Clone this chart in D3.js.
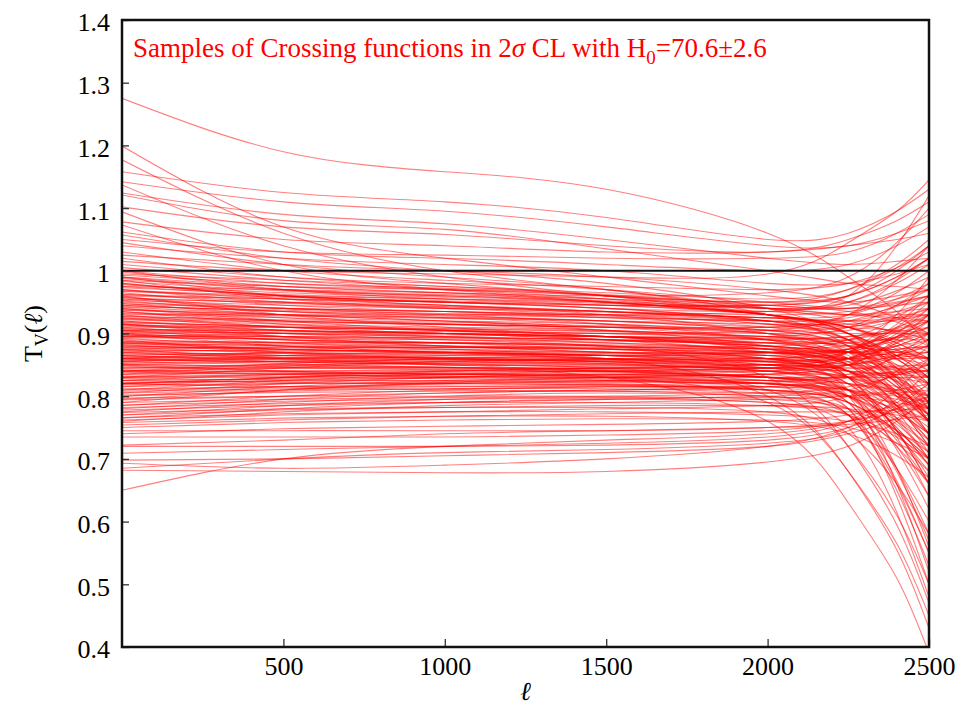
<!DOCTYPE html>
<html>
<head>
<meta charset="utf-8">
<script src="https://cdn.jsdelivr.net/npm/d3@7"></script>
<style>
  html, body { margin: 0; padding: 0; background: #fff; }
  svg { display: block; }
  text { font-family: "Liberation Serif", "DejaVu Serif", serif; }
</style>
</head>
<body>
<svg id="chart" width="977" height="708"></svg>
<script>
// Multipoles at which each sampled crossing function is tabulated
const ellKnots = [0, 500, 1000, 1500, 2000, 2250, 2400, 2500];

// Samples that start above the reference level T = 1
const highSamples = [
  [1.275,1.19,1.158,1.13,1.06,0.99,0.935,0.88],
  [1.199,1.07,1.02,0.99,0.96,0.95,0.96,0.97],
  [1.177,1.06,1.00,0.97,0.94,0.92,0.90,0.88],
  [1.158,1.125,1.11,1.085,1.05,1.06,1.095,1.13],
  [1.142,1.11,1.095,1.07,1.04,1.04,1.06,1.08],
  [1.137,1.04,0.99,0.96,0.93,0.91,0.89,0.87],
  [1.124,1.09,1.075,1.05,1.02,1.01,1.015,1.02],
  [1.121,1.08,1.066,1.035,1.00,0.98,0.975,0.97],
  [1.102,1.07,1.058,1.04,1.03,1.05,1.08,1.11],
  [1.094,1.01,0.98,0.96,0.95,0.96,0.99,1.02],
  [1.078,1.05,1.04,1.03,1.03,1.04,1.05,1.06],
  [1.073,1.00,0.97,0.95,0.93,0.91,0.885,0.86],
  [1.062,1.03,1.02,1.01,1.00,1.01,1.04,1.07],
  [1.057,1.02,1.00,0.98,0.94,0.90,0.86,0.82],
  [1.05,1.03,1.025,1.02,1.02,1.03,1.06,1.09],
  [1.045,1.01,0.99,0.97,0.93,0.88,0.82,0.76],
  [1.04,1.02,1.01,1.00,0.98,0.98,0.995,1.01],
  [1.03,1.00,0.985,0.97,0.95,0.94,0.945,0.95],
  [1.025,1.01,1.00,0.99,0.97,0.95,0.925,0.90],
  [1.02,0.99,0.975,0.96,0.93,0.90,0.865,0.83],
  [1.015,1.00,0.995,0.99,0.995,1.045,1.095,1.145],
  [1.01,0.99,0.98,0.975,0.97,0.98,1.005,1.03],
  [1.005,0.985,0.97,0.955,0.93,0.91,0.885,0.86],
  [1.00,0.98,0.97,0.96,0.95,0.97,1.01,1.05]
];

// Samples in the upper half of the main band
const upperBandSamples = [
  [0.998,0.975,0.965,0.955,0.94,0.93,0.925,0.92],
  [0.993,0.98,0.972,0.962,0.945,0.94,0.95,0.96],
  [0.988,0.97,0.962,0.955,0.945,0.935,0.918,0.90],
  [0.983,0.968,0.96,0.952,0.94,0.945,0.968,0.99],
  [0.978,0.965,0.958,0.95,0.93,0.90,0.84,0.78],
  [0.973,0.962,0.955,0.948,0.94,0.95,0.98,1.01],
  [0.967,0.958,0.952,0.945,0.93,0.91,0.875,0.84],
  [0.963,0.95,0.943,0.935,0.925,0.93,0.955,0.98],
  [0.957,0.948,0.942,0.935,0.92,0.90,0.86,0.82],
  [0.953,0.945,0.94,0.934,0.925,0.92,0.92,0.92],
  [0.947,0.94,0.935,0.928,0.915,0.89,0.83,0.77],
  [0.943,0.937,0.932,0.926,0.92,0.925,0.943,0.96],
  [0.937,0.93,0.926,0.92,0.905,0.88,0.82,0.76],
  [0.933,0.928,0.924,0.92,0.915,0.915,0.922,0.93],
  [0.927,0.922,0.918,0.912,0.90,0.87,0.805,0.74],
  [0.923,0.918,0.914,0.91,0.905,0.91,0.93,0.95],
  [0.917,0.912,0.908,0.904,0.895,0.875,0.833,0.79],
  [0.913,0.91,0.907,0.903,0.90,0.905,0.922,0.94],
  [0.907,0.904,0.90,0.895,0.885,0.865,0.823,0.78],
  [0.903,0.90,0.898,0.895,0.892,0.895,0.903,0.91],
  [0.897,0.895,0.893,0.89,0.88,0.86,0.815,0.77],
  [0.893,0.892,0.89,0.888,0.885,0.89,0.905,0.92],
  [0.887,0.886,0.885,0.882,0.875,0.855,0.808,0.76],
  [0.883,0.882,0.88,0.878,0.876,0.88,0.895,0.91],
  [0.877,0.878,0.878,0.876,0.87,0.855,0.823,0.79],
  [0.873,0.873,0.872,0.87,0.868,0.87,0.88,0.89],
  [0.867,0.868,0.868,0.866,0.86,0.84,0.79,0.74],
  [0.863,0.865,0.866,0.865,0.865,0.875,0.903,0.93],
  [0.857,0.86,0.861,0.86,0.855,0.84,0.80,0.76],
  [0.853,0.856,0.858,0.858,0.857,0.86,0.87,0.88],
  [0.96,0.955,0.95,0.94,0.92,0.89,0.825,0.76],
  [0.975,0.96,0.95,0.945,0.945,0.96,1.00,1.04],
  [0.99,0.96,0.945,0.935,0.925,0.915,0.903,0.89],
  [1.00,0.97,0.955,0.945,0.935,0.93,0.935,0.94],
  [0.985,0.955,0.94,0.93,0.915,0.89,0.85,0.81]
];

// Samples inside the main band
const bandSamples = [
  [0.995,0.985,0.975,0.965,0.955,0.97,1.005,1.04],
  [0.99,0.97,0.96,0.95,0.93,0.91,0.88,0.85],
  [0.985,0.975,0.97,0.96,0.94,0.93,0.93,0.93],
  [0.98,0.96,0.95,0.94,0.92,0.89,0.845,0.80],
  [0.975,0.97,0.965,0.96,0.965,0.99,1.045,1.10],
  [0.97,0.955,0.945,0.93,0.90,0.86,0.80,0.74],
  [0.968,0.96,0.955,0.95,0.94,0.94,0.955,0.97],
  [0.965,0.945,0.935,0.925,0.91,0.89,0.865,0.84],
  [0.962,0.955,0.95,0.945,0.945,0.96,0.99,1.02],
  [0.958,0.94,0.93,0.915,0.89,0.85,0.785,0.72],
  [0.955,0.95,0.945,0.935,0.92,0.91,0.905,0.90],
  [0.952,0.935,0.925,0.915,0.90,0.87,0.83,0.79],
  [0.95,0.94,0.935,0.93,0.935,0.96,1.04,1.12],
  [0.948,0.93,0.92,0.905,0.88,0.83,0.745,0.66],
  [0.945,0.935,0.93,0.925,0.92,0.92,0.935,0.95],
  [0.942,0.93,0.92,0.91,0.89,0.86,0.815,0.77],
  [0.94,0.925,0.915,0.905,0.895,0.89,0.89,0.89],
  [0.938,0.93,0.925,0.92,0.91,0.91,0.925,0.94],
  [0.935,0.915,0.905,0.895,0.875,0.83,0.735,0.64],
  [0.932,0.925,0.92,0.915,0.905,0.90,0.90,0.90],
  [0.93,0.91,0.90,0.89,0.88,0.87,0.865,0.86],
  [0.928,0.92,0.915,0.91,0.91,0.93,0.965,1.00],
  [0.925,0.91,0.90,0.89,0.87,0.83,0.745,0.66],
  [0.922,0.915,0.91,0.905,0.89,0.87,0.845,0.82],
  [0.92,0.905,0.895,0.885,0.875,0.87,0.875,0.88],
  [0.918,0.91,0.905,0.90,0.89,0.88,0.87,0.86],
  [0.915,0.90,0.89,0.88,0.86,0.83,0.78,0.73],
  [0.912,0.905,0.90,0.895,0.895,0.91,0.945,0.98],
  [0.91,0.895,0.885,0.875,0.86,0.81,0.685,0.56],
  [0.908,0.90,0.895,0.89,0.88,0.87,0.86,0.85],
  [0.905,0.89,0.88,0.87,0.86,0.85,0.845,0.84],
  [0.902,0.895,0.89,0.885,0.875,0.86,0.83,0.80],
  [0.90,0.89,0.885,0.88,0.88,0.89,0.91,0.93],
  [0.898,0.885,0.875,0.865,0.85,0.82,0.76,0.70],
  [0.895,0.89,0.885,0.88,0.87,0.86,0.845,0.83],
  [0.892,0.88,0.87,0.865,0.86,0.87,0.895,0.92],
  [0.89,0.885,0.88,0.875,0.86,0.83,0.765,0.70],
  [0.888,0.875,0.868,0.86,0.85,0.845,0.848,0.85],
  [0.885,0.88,0.875,0.87,0.865,0.86,0.86,0.86],
  [0.882,0.87,0.862,0.855,0.84,0.81,0.75,0.69],
  [0.88,0.875,0.87,0.865,0.87,0.89,0.925,0.96],
  [0.878,0.868,0.86,0.855,0.85,0.85,0.86,0.87],
  [0.875,0.87,0.865,0.86,0.845,0.80,0.66,0.52],
  [0.872,0.865,0.86,0.855,0.845,0.83,0.805,0.78],
  [0.87,0.86,0.855,0.85,0.845,0.85,0.865,0.88],
  [0.868,0.862,0.858,0.852,0.84,0.82,0.785,0.75],
  [0.865,0.858,0.852,0.846,0.835,0.80,0.72,0.64],
  [0.862,0.86,0.858,0.856,0.855,0.86,0.88,0.90],
  [0.86,0.852,0.846,0.84,0.83,0.81,0.775,0.74],
  [0.858,0.855,0.852,0.85,0.85,0.86,0.88,0.90],
  [0.855,0.85,0.846,0.842,0.83,0.79,0.685,0.58],
  [0.852,0.846,0.842,0.838,0.83,0.82,0.81,0.80],
  [0.85,0.848,0.846,0.844,0.845,0.86,0.90,0.94],
  [0.848,0.84,0.835,0.83,0.82,0.80,0.755,0.71],
  [0.845,0.845,0.845,0.844,0.84,0.83,0.815,0.80],
  [0.842,0.838,0.835,0.832,0.82,0.78,0.64,0.50],
  [0.84,0.84,0.84,0.84,0.84,0.85,0.865,0.88],
  [0.838,0.835,0.832,0.828,0.82,0.80,0.765,0.73],
  [0.835,0.836,0.836,0.835,0.83,0.82,0.805,0.79],
  [0.832,0.832,0.832,0.83,0.825,0.80,0.73,0.66],
  [0.83,0.835,0.838,0.84,0.845,0.87,0.93,0.99],
  [0.828,0.826,0.824,0.82,0.81,0.77,0.66,0.55],
  [0.825,0.828,0.83,0.83,0.83,0.83,0.83,0.83],
  [0.822,0.824,0.825,0.824,0.82,0.81,0.785,0.76],
  [0.82,0.825,0.83,0.835,0.84,0.86,0.895,0.93],
  [0.818,0.82,0.82,0.818,0.81,0.79,0.745,0.70],
  [0.815,0.82,0.822,0.824,0.825,0.83,0.84,0.85],
  [0.812,0.815,0.816,0.815,0.81,0.79,0.745,0.70],
  [0.81,0.815,0.82,0.822,0.82,0.80,0.74,0.68],
  [0.808,0.812,0.815,0.818,0.822,0.835,0.863,0.89],
  [0.805,0.81,0.812,0.812,0.805,0.77,0.65,0.53],
  [0.802,0.806,0.808,0.808,0.805,0.80,0.79,0.78],
  [0.80,0.808,0.812,0.815,0.815,0.81,0.80,0.79],
  [0.797,0.80,0.80,0.80,0.795,0.78,0.745,0.71],
  [0.794,0.80,0.805,0.81,0.815,0.83,0.865,0.90],
  [0.79,0.795,0.798,0.798,0.79,0.75,0.615,0.48],
  [0.786,0.792,0.795,0.797,0.798,0.80,0.805,0.81],
  [0.782,0.788,0.79,0.79,0.785,0.77,0.735,0.70],
  [0.778,0.785,0.79,0.795,0.80,0.81,0.835,0.86],
  [0.774,0.78,0.782,0.782,0.775,0.74,0.66,0.58],
  [0.77,0.778,0.782,0.785,0.785,0.78,0.77,0.76],
  [0.766,0.772,0.775,0.775,0.77,0.76,0.74,0.72],
  [0.762,0.77,0.775,0.78,0.785,0.80,0.84,0.88],
  [0.758,0.765,0.768,0.768,0.76,0.74,0.705,0.67],
  [0.754,0.762,0.768,0.772,0.775,0.775,0.778,0.78],
  [0.75,0.758,0.762,0.764,0.762,0.75,0.725,0.70]
];

// Further band samples with steeper or crossing slopes
const crossSamples = [
  [0.96,0.93,0.91,0.895,0.88,0.87,0.87,0.87],
  [0.94,0.92,0.905,0.89,0.87,0.86,0.865,0.87],
  [0.93,0.93,0.93,0.93,0.925,0.92,0.925,0.93],
  [0.92,0.91,0.905,0.90,0.905,0.93,0.985,1.04],
  [0.915,0.895,0.88,0.87,0.855,0.83,0.785,0.74],
  [0.91,0.91,0.905,0.895,0.875,0.85,0.805,0.76],
  [0.905,0.90,0.895,0.89,0.89,0.895,0.908,0.92],
  [0.90,0.88,0.87,0.86,0.845,0.83,0.80,0.77],
  [0.895,0.90,0.90,0.895,0.885,0.87,0.85,0.83],
  [0.89,0.87,0.86,0.855,0.855,0.87,0.91,0.95],
  [0.885,0.885,0.885,0.88,0.87,0.85,0.805,0.76],
  [0.88,0.88,0.878,0.875,0.865,0.84,0.775,0.71],
  [0.875,0.86,0.85,0.84,0.83,0.83,0.835,0.84],
  [0.87,0.875,0.878,0.878,0.875,0.87,0.865,0.86],
  [0.865,0.87,0.87,0.865,0.85,0.82,0.745,0.67],
  [0.86,0.862,0.862,0.86,0.86,0.87,0.895,0.92],
  [0.855,0.86,0.865,0.868,0.87,0.87,0.875,0.88],
  [0.85,0.855,0.855,0.852,0.84,0.81,0.715,0.62],
  [0.845,0.85,0.853,0.853,0.85,0.845,0.843,0.84],
  [0.84,0.852,0.86,0.865,0.87,0.875,0.888,0.90],
  [0.835,0.84,0.842,0.84,0.83,0.81,0.765,0.72],
  [0.83,0.845,0.855,0.86,0.86,0.85,0.825,0.80],
  [0.825,0.835,0.84,0.845,0.85,0.86,0.885,0.91],
  [0.82,0.83,0.835,0.835,0.825,0.79,0.68,0.57],
  [0.815,0.83,0.84,0.845,0.845,0.84,0.835,0.83],
  [0.81,0.825,0.835,0.84,0.845,0.855,0.873,0.89],
  [0.805,0.82,0.83,0.835,0.83,0.81,0.75,0.69],
  [0.80,0.815,0.825,0.83,0.835,0.835,0.838,0.84],
  [0.795,0.81,0.82,0.825,0.825,0.81,0.775,0.74],
  [0.79,0.81,0.822,0.83,0.835,0.85,0.89,0.93],
  [0.785,0.80,0.81,0.815,0.815,0.80,0.76,0.72],
  [0.78,0.795,0.805,0.81,0.81,0.80,0.78,0.76],
  [0.775,0.79,0.80,0.805,0.80,0.78,0.72,0.66],
  [0.77,0.785,0.795,0.80,0.805,0.815,0.833,0.85],
  [0.765,0.78,0.79,0.795,0.79,0.77,0.725,0.68],
  [0.76,0.775,0.785,0.79,0.795,0.80,0.81,0.82],
  [0.97,0.95,0.94,0.935,0.93,0.935,0.948,0.96],
  [0.955,0.94,0.935,0.93,0.92,0.90,0.865,0.83],
  [0.935,0.92,0.915,0.91,0.90,0.885,0.858,0.83],
  [0.925,0.92,0.915,0.91,0.91,0.92,0.945,0.97],
  [0.915,0.905,0.90,0.895,0.88,0.85,0.785,0.72],
  [0.905,0.905,0.90,0.895,0.89,0.88,0.87,0.86],
  [0.895,0.895,0.893,0.89,0.885,0.885,0.893,0.90],
  [0.885,0.875,0.87,0.865,0.855,0.84,0.81,0.78],
  [0.875,0.878,0.878,0.875,0.87,0.875,0.893,0.91],
  [0.865,0.855,0.85,0.848,0.845,0.84,0.83,0.82],
  [0.855,0.865,0.87,0.87,0.865,0.84,0.785,0.73],
  [0.845,0.845,0.845,0.845,0.85,0.87,0.915,0.96],
  [0.835,0.848,0.855,0.858,0.855,0.84,0.805,0.77],
  [0.825,0.822,0.82,0.818,0.81,0.79,0.74,0.69],
  [0.98,0.96,0.95,0.94,0.935,0.95,0.985,1.02],
  [0.99,0.975,0.965,0.95,0.93,0.90,0.845,0.79],
  [0.945,0.935,0.928,0.92,0.905,0.88,0.83,0.78],
  [0.90,0.902,0.903,0.90,0.895,0.885,0.873,0.86],
  [0.87,0.865,0.86,0.858,0.86,0.875,0.908,0.94],
  [0.86,0.87,0.875,0.875,0.87,0.86,0.84,0.82],
  [0.85,0.84,0.835,0.833,0.835,0.85,0.885,0.92],
  [0.84,0.835,0.83,0.826,0.815,0.78,0.665,0.55],
  [0.83,0.83,0.828,0.825,0.82,0.81,0.795,0.78],
  [0.82,0.815,0.81,0.808,0.80,0.77,0.685,0.60]
];

// Samples that fall steeply at the highest multipoles
const fallingSamples = [
  [0.84,0.845,0.845,0.83,0.76,0.63,0.51,0.39],
  [0.88,0.875,0.87,0.86,0.80,0.68,0.555,0.43],
  [0.82,0.83,0.835,0.83,0.79,0.68,0.565,0.45],
  [0.90,0.89,0.885,0.88,0.83,0.72,0.595,0.47],
  [0.86,0.855,0.85,0.845,0.81,0.72,0.61,0.50]
];

// Samples that start well below the band
const lowSamples = [
  [0.65,0.70,0.72,0.73,0.74,0.76,0.79,0.82],
  [0.682,0.68,0.678,0.68,0.695,0.72,0.76,0.80],
  [0.693,0.685,0.69,0.70,0.72,0.75,0.795,0.84],
  [0.698,0.70,0.705,0.71,0.72,0.74,0.765,0.79],
  [0.709,0.715,0.72,0.725,0.735,0.76,0.81,0.86],
  [0.72,0.72,0.72,0.722,0.73,0.75,0.78,0.81],
  [0.735,0.735,0.735,0.738,0.745,0.76,0.78,0.80],
  [0.722,0.73,0.74,0.745,0.75,0.755,0.763,0.77],
  [0.745,0.745,0.745,0.745,0.75,0.76,0.775,0.79],
  [0.74,0.748,0.752,0.755,0.76,0.77,0.785,0.80],
  [0.685,0.70,0.71,0.715,0.725,0.745,0.783,0.82]
];

const xTicks = [500, 1000, 1500, 2000, 2500];
const yTicks = [0.4, 0.5, 0.6, 0.7, 0.8, 0.9, 1.0, 1.1, 1.2, 1.3, 1.4];
const referenceLevel = 1.0;

const svg = d3.select("#chart");
const plotLeft = 122, plotRight = 929, plotTop = 20, plotBottom = 647;

const x = d3.scaleLinear().domain([0, 2500]).range([plotLeft, plotRight]);
const y = d3.scaleLinear().domain([0.4, 1.4]).range([plotBottom, plotTop]);

svg.append("defs").append("clipPath").attr("id", "plot-clip")
  .append("rect")
  .attr("x", plotLeft).attr("y", plotTop)
  .attr("width", plotRight - plotLeft).attr("height", plotBottom - plotTop);

const allSamples = [].concat(highSamples, upperBandSamples, bandSamples,
                             crossSamples, fallingSamples, lowSamples);

// smooth (C2) spline through the tabulated values of each sample
const line = d3.line()
  .x((d, i) => x(ellKnots[i]))
  .y(d => y(d))
  .curve(d3.curveNatural);

svg.append("g")
  .attr("clip-path", "url(#plot-clip)")
  .selectAll("path")
  .data(allSamples)
  .join("path")
  .attr("d", line)
  .attr("fill", "none")
  .attr("stroke", "#ff0000")
  .attr("stroke-opacity", 0.5)
  .attr("stroke-width", 1.1);

// reference level T_V = 1
svg.append("line")
  .attr("x1", plotLeft).attr("x2", plotRight)
  .attr("y1", y(referenceLevel)).attr("y2", y(referenceLevel))
  .attr("stroke", "#111").attr("stroke-width", 2);

// axes with inward ticks
const yAxis = d3.axisLeft(y)
  .tickValues(yTicks)
  .tickSizeInner(-7).tickSizeOuter(0).tickPadding(12)
  .tickFormat(d => Math.abs(d - 1) < 1e-9 ? "1" : d3.format(".1f")(d));

const gy = svg.append("g").attr("transform", `translate(${plotLeft},0)`).call(yAxis);
gy.select(".domain").remove();
gy.selectAll(".tick line").attr("stroke", "#333").attr("stroke-width", 1.3);
gy.selectAll(".tick text")
  .attr("font-family", "Liberation Serif")
  .attr("font-size", 26)
  .attr("fill", "#000")
  .attr("dy", "0.42em");

const xAxis = d3.axisBottom(x)
  .tickValues(xTicks)
  .tickSizeInner(-8).tickSizeOuter(0).tickPadding(12)
  .tickFormat(d3.format("d"));

const gx = svg.append("g").attr("transform", `translate(0,${plotBottom})`).call(xAxis);
gx.select(".domain").remove();
gx.selectAll(".tick line").attr("stroke", "#333").attr("stroke-width", 1.3);
gx.selectAll(".tick text")
  .attr("font-family", "Liberation Serif")
  .attr("font-size", 26)
  .attr("fill", "#000")
  .attr("dy", "0.62em");

// plot frame
svg.append("rect")
  .attr("x", plotLeft).attr("y", plotTop)
  .attr("width", plotRight - plotLeft).attr("height", plotBottom - plotTop)
  .attr("fill", "none")
  .attr("stroke", "#111")
  .attr("stroke-width", 2.5);

// caption inside the frame
const title = svg.append("text")
  .attr("x", 133).attr("y", 57)
  .attr("font-size", 27)
  .attr("fill", "#ff0000");
title.append("tspan").text("Samples of Crossing functions in 2");
title.append("tspan").attr("font-style", "italic").text("σ");
title.append("tspan").text(" CL with H");
title.append("tspan").attr("font-size", 19).attr("dy", 7).text("0");
title.append("tspan").attr("dy", -7).text("=70.6±2.6");

// axis titles
const yl = svg.append("text")
  .attr("transform", `translate(42,${(plotTop + plotBottom) / 2}) rotate(-90)`)
  .attr("text-anchor", "middle")
  .attr("font-size", 26)
  .attr("fill", "#000");
yl.append("tspan").text("T");
yl.append("tspan").attr("font-size", 18).attr("dy", 6).text("V");
yl.append("tspan").attr("dy", -6).text("(");
yl.append("tspan").attr("font-style", "italic").text("ℓ");
yl.append("tspan").text(")");

svg.append("text")
  .attr("x", (plotLeft + plotRight) / 2).attr("y", 700)
  .attr("text-anchor", "middle")
  .attr("font-size", 26)
  .attr("font-style", "italic")
  .attr("fill", "#000")
  .text("ℓ");
</script>
</body>
</html>
